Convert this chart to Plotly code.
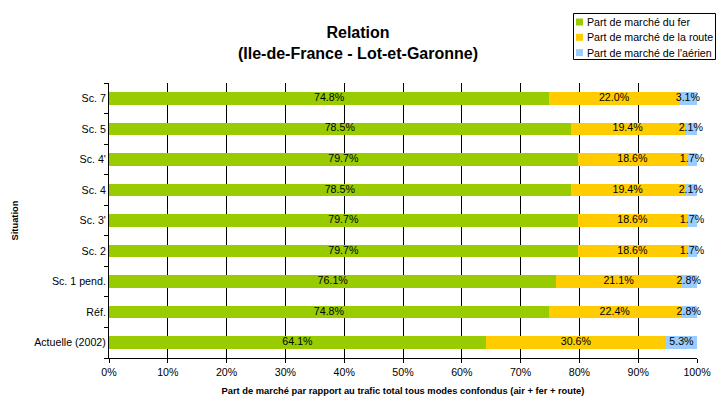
import plotly.graph_objects as go

categories = ["Actuelle (2002)", "Réf.", "Sc. 1 pend.", "Sc. 2", "Sc. 3'", "Sc. 4", "Sc. 4'", "Sc. 5", "Sc. 7"]
fer = [64.1, 74.8, 76.1, 79.7, 79.7, 78.5, 79.7, 78.5, 74.8]
route = [30.6, 22.4, 21.1, 18.6, 18.6, 19.4, 18.6, 19.4, 22.0]
aerien = [5.3, 2.8, 2.8, 1.7, 1.7, 2.1, 1.7, 2.1, 3.1]
x_ticks = [0, 10, 20, 30, 40, 50, 60, 70, 80, 90, 100]
x_ticklabels = [f"{v}%" for v in x_ticks]
series_names = ["Part de marché du fer", "Part de marché de la route", "Part de marché de l'aérien"]
series_colors = ["#99CC00", "#FFCC00", "#99CCFF"]

W, H = 716, 396
ML, MR, MT, MB = 109, 19, 83, 38
PW, PH = W - ML - MR, H - MT - MB


def px2x(px):
    return (px - ML) / PW


def py2y(py):
    return (H - MB - py) / PH


FONT = "Liberation Sans, Arial, sans-serif"
SMALL = 10.67
fig = go.Figure()
all_series = [fer, route, aerien]
for name, vals, color in zip(series_names, all_series, series_colors):
    fig.add_trace(go.Bar(
        y=categories, x=vals, name=name, orientation="h",
        marker=dict(color=color, line=dict(width=0)),
        hoverinfo="skip", showlegend=False,
    ))

# data labels: centre of each stacked segment (normalised to 100 %)
lab_x, lab_y, lab_t = [], [], []
for i, cat in enumerate(categories):
    total = sum(s[i] for s in all_series)
    cum = 0.0
    for s in all_series:
        v = s[i]
        lab_x.append((cum + v / 2) * 100 / total)
        lab_y.append(cat)
        lab_t.append(f"{v:.1f}%")
        cum += v
fig.add_trace(go.Scatter(
    x=lab_x, y=lab_y, text=lab_t, mode="text", textposition="middle center",
    textfont=dict(family=FONT, size=SMALL, color="#000000"),
    cliponaxis=False, hoverinfo="skip", showlegend=False,
))

# manual legend (box, swatches, labels)
shapes = [dict(type="rect", xref="paper", yref="paper",
               x0=px2x(573.5), x1=px2x(715.5), y0=py2y(59.5), y1=py2y(13.5),
               line=dict(color="#000000", width=1), fillcolor="white", layer="above")]
annotations = []
for i, (name, color) in enumerate(zip(series_names, series_colors)):
    cy = 22 + i * 15.3
    shapes.append(dict(type="rect", xref="paper", yref="paper",
                       x0=px2x(576), x1=px2x(583), y0=py2y(cy + 3.5), y1=py2y(cy - 3.5),
                       line=dict(width=0), fillcolor=color, layer="above"))
    annotations.append(dict(text=name, xref="paper", yref="paper",
                            x=px2x(585), y=py2y(cy), xanchor="left", yanchor="middle",
                            showarrow=False, font=dict(family=FONT, size=SMALL, color="#000000")))

fig.update_layout(
    barmode="stack", barnorm="percent", bargap=0.59,
    width=W, height=H,
    margin=dict(l=ML, r=MR, t=MT, b=MB, autoexpand=False),
    paper_bgcolor="white", plot_bgcolor="white",
    font=dict(family=FONT, size=SMALL, color="#000000"),
    title=dict(text="<b>Relation<br>(Ile-de-France - Lot-et-Garonne)</b>",
               x=0.5, xanchor="center", y=1 - 38 / H, yanchor="top",
               font=dict(family=FONT, size=16, color="#000000")),
    shapes=shapes, annotations=annotations,
    showlegend=False,
)
fig.update_xaxes(
    range=[0, 100], tickvals=x_ticks, ticktext=x_ticklabels,
    showgrid=True, gridcolor="#000000", gridwidth=1,
    showline=True, linecolor="#000000", linewidth=1,
    ticks="outside", ticklen=4, tickcolor="#000000",
    tickfont=dict(family=FONT, size=SMALL),
    title=dict(text="<b>Part de marché par rapport au trafic total tous modes confondus (air + fer + route)</b>",
               font=dict(family=FONT, size=9.33), standoff=10),
    zeroline=False,
)
fig.update_yaxes(
    categoryorder="array", categoryarray=categories,
    showline=True, linecolor="#000000", linewidth=1,
    ticks="outside", ticklen=4, tickcolor="#000000", tickson="boundaries",
    showgrid=False,
    tickfont=dict(family=FONT, size=SMALL),
    title=dict(text="<b>Situation</b>", font=dict(family=FONT, size=9.33), standoff=13),
)
fig.write_html("out.html", config={"displayModeBar": False},
               post_script="document.body.style.margin='0';")
